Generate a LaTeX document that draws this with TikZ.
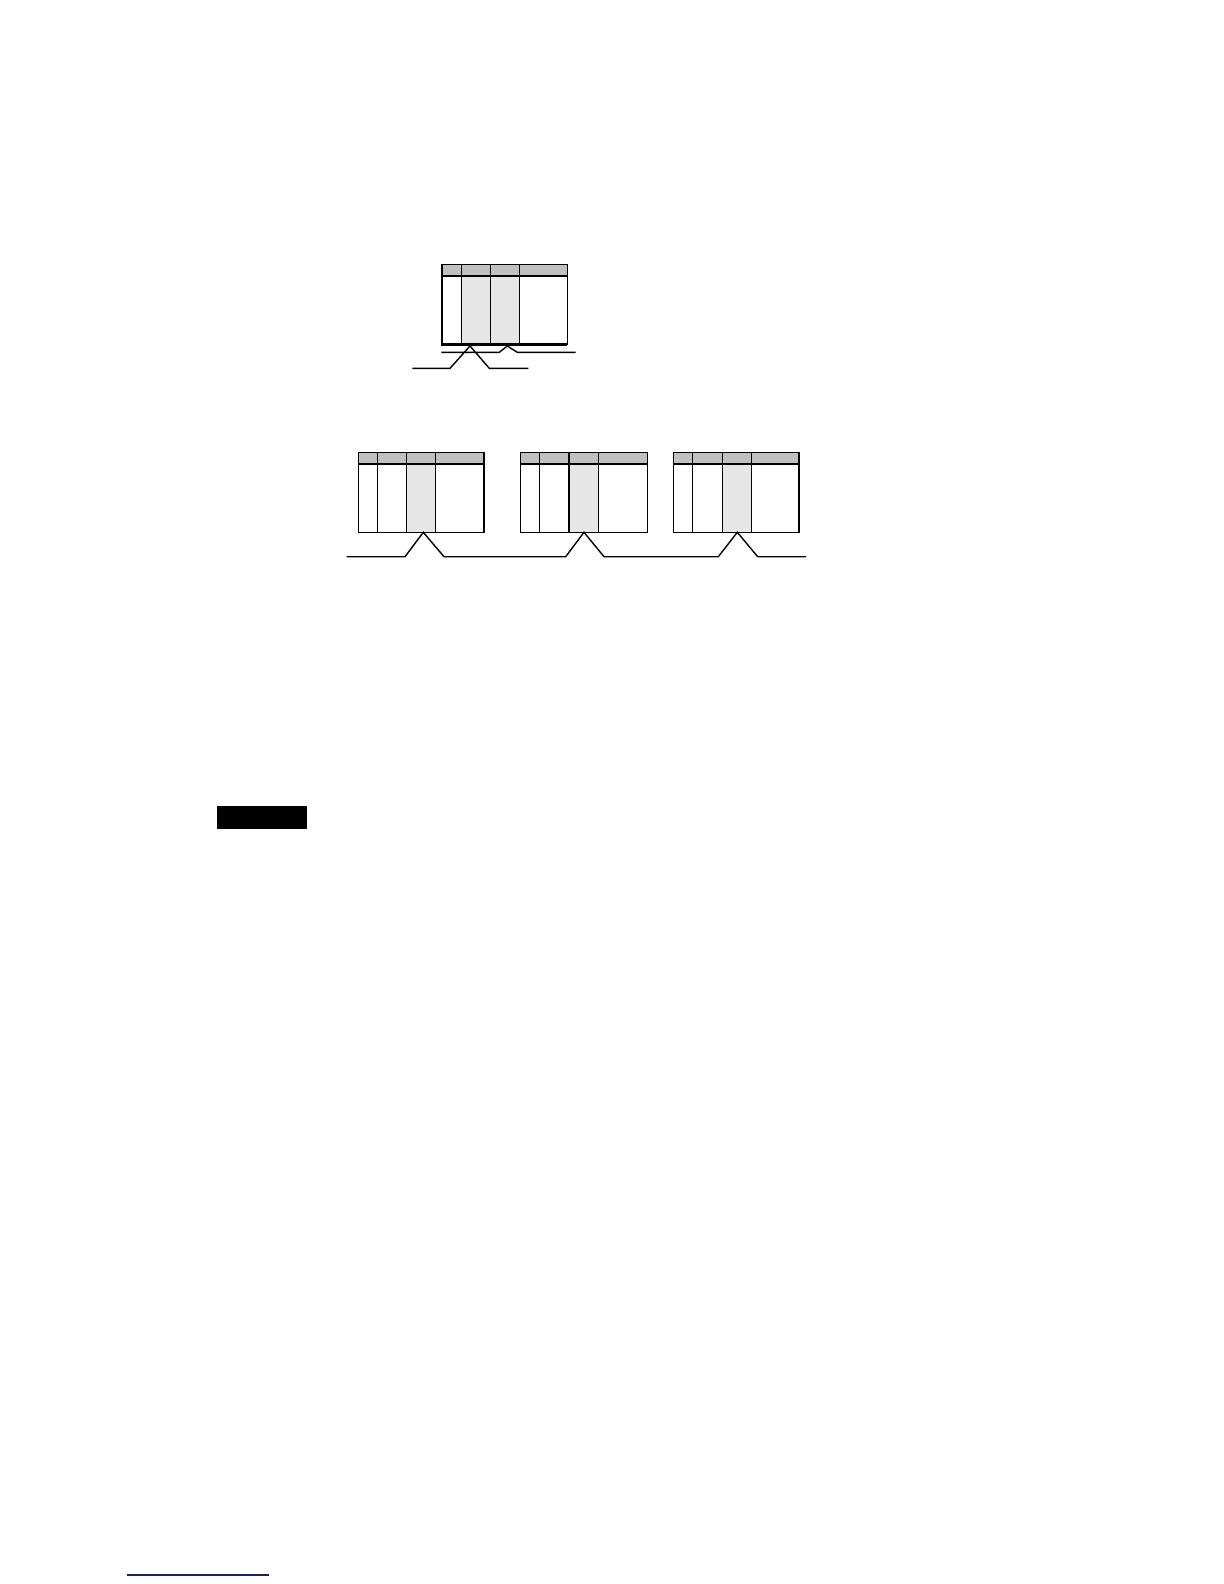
\documentclass[tikz,border=0pt]{standalone}
\usepackage{xcolor}
\usepackage{tikz}
\definecolor{hdrGray}{HTML}{C0C0C0}
\definecolor{colGray}{HTML}{E6E6E6}
\definecolor{linkBlue}{HTML}{1A1A80}
\begin{document}
\begin{tikzpicture}[x=0.5pt,y=-0.5pt,
hdr/.style={fill=hdrGray,draw,line width=0.7pt},
col/.style={fill=colGray},
grid/.style={draw,line width=0.7pt},
heavy/.style={draw,line width=1.4pt},
lead/.style={draw,line width=0.7pt},
]
\useasboundingbox (0,0) rectangle (1224,1584);
% upper table
\path[col] (461.7,276) rectangle (519.3,344.3);
\path[hdr] (442,264.3) rectangle (567.3,276);
\path[grid]
    (442,276) rectangle (567.3,344.3)
    (461.7,264.3) -- (461.7,344.3)
    (490.3,264.3) -- (490.3,344.3)
    (519.3,264.3) -- (519.3,344.3);
\path[heavy] (442,276) -- (442,344.3) -- (567.3,344.3);
\path[lead]
    (441.3,352.3) -- (499.3,352.3) -- (507.3,346) -- (517.3,352.3) -- (575.7,352.3)
    (412.3,368.3) -- (450,368.3) -- (470,346) -- (489.3,368.3) -- (528.3,368.3);
% lower tables
\foreach \l/\a/\b/\c/\r in {358.3/377.3/406.7/435.7/484,
    520.7/539.7/569/598.3/647.3, 673.3/692.3/722.3/751.3/799}{
  \path[col] (\b,464) rectangle (\c,532.3);
  \path[hdr] (\l,452.3) rectangle (\r,464);
  \path[grid]
      (\l,464) rectangle (\r,532.3)
      (\a,452.3) -- (\a,532.3)
      (\b,452.3) -- (\b,532.3)
      (\c,452.3) -- (\c,532.3);
}
\path[lead] (346.5,556.7) -- (405,556.7) -- (423.3,532.3) -- (444,556.7)
    -- (565.7,556.7) -- (584,532.3) -- (604,556.7)
    -- (718.3,556.7) -- (737.3,532.3) -- (757.7,556.7) -- (806,556.7);
% black bar and footer rule
\fill (217,806) rectangle (307,829);
\draw[linkBlue,line width=0.8pt] (126.7,1575) -- (269,1575);
\end{tikzpicture}
\end{document}
